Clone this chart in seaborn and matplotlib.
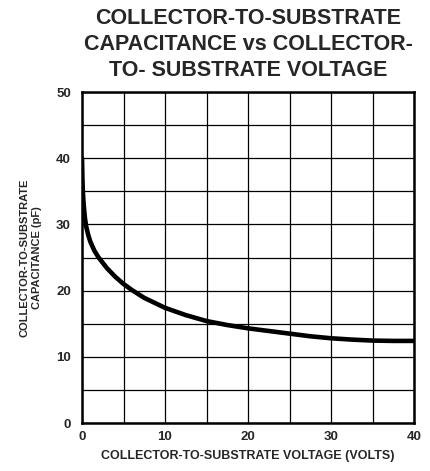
import pandas as pd
import seaborn as sns
import matplotlib.pyplot as plt

# values
voltage = [0, 0.05, 0.1, 0.2, 0.35, 0.5, 0.75, 1, 1.5, 2, 3, 4, 5, 6, 7.5, 10, 12.5, 15, 17.5, 20, 22.5, 25, 27.5, 30, 32.5, 35, 37.5, 40]
capacitance = [40, 37, 35, 33, 31, 29.7, 28.4, 27.4, 26, 25.0, 23.4, 22.1, 21.0, 20.1, 18.9, 17.4, 16.3, 15.4, 14.8, 14.3, 13.9, 13.5, 13.1, 12.8, 12.6, 12.45, 12.4, 12.4]

df = pd.DataFrame({"V": voltage, "C": capacitance})

sns.set_style("white")
plt.rcParams["font.family"] = ["Liberation Sans", "DejaVu Sans"]

fig = plt.figure(figsize=(4.30, 4.71), dpi=100)
ax = fig.add_axes([82 / 430, 1 - 423 / 471, 332 / 430, 331 / 471])

sns.lineplot(data=df, x="V", y="C", ax=ax, color="black", linewidth=3.3)

ax.set_xlim(0, 40)
ax.set_ylim(0, 50)
ax.set_xticks(range(0, 41, 10))
ax.set_yticks(range(0, 51, 10))
ax.set_xticks(range(0, 41, 5), minor=True)
ax.set_yticks(range(0, 51, 5), minor=True)
ax.grid(True, which="both", color="black", linewidth=0.9)
ax.tick_params(which="both", length=0, labelsize=9.5)
ax.tick_params(axis="y", pad=8)
ax.tick_params(axis="x", pad=6)
for lab in ax.get_xticklabels() + ax.get_yticklabels():
    lab.set_fontweight("bold")
for sp in ax.spines.values():
    sp.set_color("black")
    sp.set_linewidth(1.8)

ax.set_xlabel("COLLECTOR-TO-SUBSTRATE VOLTAGE (VOLTS)", fontsize=9, fontweight="bold", labelpad=5)
ax.set_ylabel("COLLECTOR-TO-SUBSTRATE\nCAPACITANCE (pF)", fontsize=8, fontweight="bold", labelpad=10, linespacing=1.3)

fig.text(248 / 430, 1 - 8 / 471, "COLLECTOR-TO-SUBSTRATE\nCAPACITANCE vs COLLECTOR-\nTO- SUBSTRATE VOLTAGE",
         ha="center", va="top", fontsize=15.5, fontweight="bold", linespacing=1.3)

fig.savefig("out.png", dpi=100)
